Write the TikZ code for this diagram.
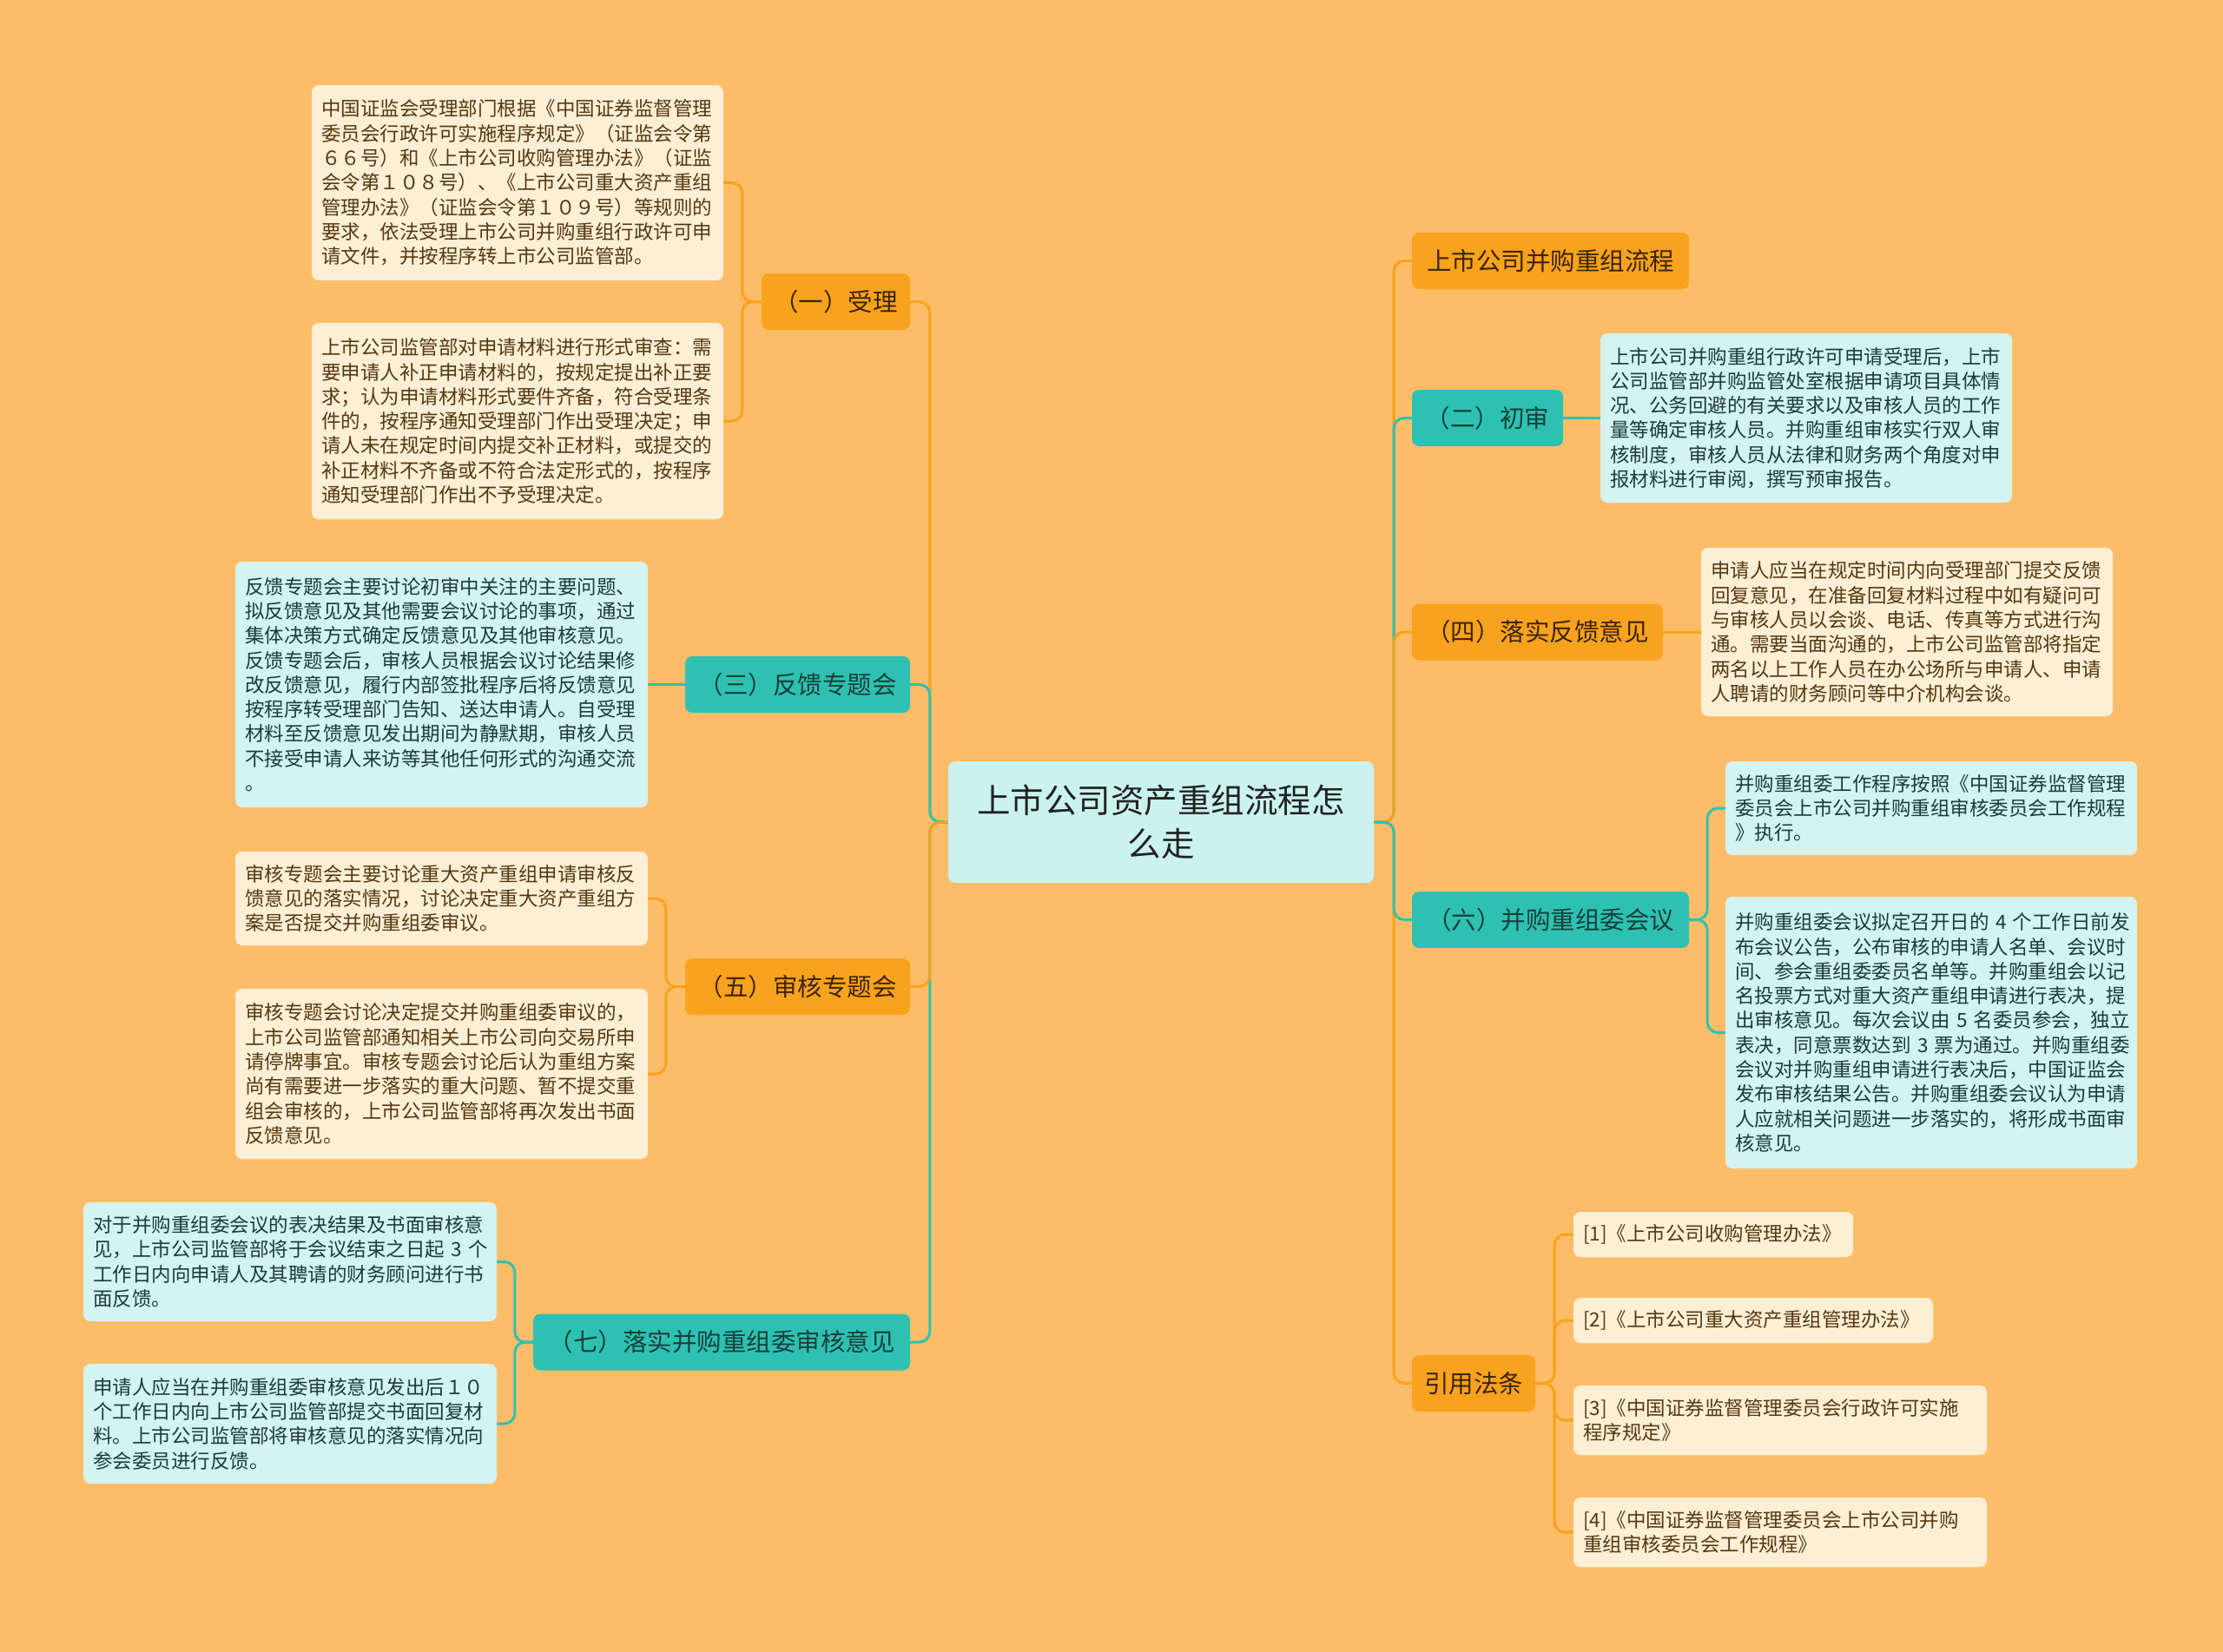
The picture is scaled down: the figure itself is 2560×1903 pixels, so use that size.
\documentclass[tikz,border=0pt]{standalone}
\usepackage{fontspec}
\setmainfont{Noto Sans CJK SC}
\usetikzlibrary{backgrounds}
\definecolor{bgc}{HTML}{FDBD68}
\definecolor{orangec}{HTML}{F9A21E}
\definecolor{tealc}{HTML}{2EC1B2}
\definecolor{creamc}{HTML}{FDEFD6}
\definecolor{cyanc}{HTML}{D5F3F0}
\definecolor{centerc}{HTML}{CAF3EF}
\definecolor{brownt}{HTML}{553810}
\definecolor{tealt}{HTML}{1D3B38}
\definecolor{obt}{HTML}{3C2400}
\definecolor{tbt}{HTML}{163F3A}
\definecolor{darkt}{HTML}{222222}
\definecolor{olinec}{HTML}{F9A11B}
\definecolor{tlinec}{HTML}{2EC1B2}
\begin{document}
\begin{tikzpicture}[x=1pt,y=-1pt,
  leafO/.style={fill=creamc, text=brownt, rounded corners=8pt, align=left, inner xsep=11pt, inner ysep=0pt, font=\fontsize{22.5pt}{28.3pt}\selectfont},
  leafT/.style={leafO, fill=cyanc, text=tealt},
  brO/.style={fill=orangec, text=obt, rounded corners=8pt, inner sep=0pt, font=\fontsize{28.5pt}{34pt}\selectfont, minimum height=65pt},
  brT/.style={brO, fill=tealc, text=tbt},
  oline/.style={draw=olinec, line width=3pt, rounded corners=12pt},
  tline/.style={oline, draw=tlinec}]
\useasboundingbox (0,0) rectangle (2560,1903);

% center
\node[fill=centerc, rounded corners=8pt, minimum width=490pt, minimum height=140pt, inner sep=0pt, align=center, text=darkt, font=\fontsize{38.5pt}{50pt}\selectfont] (c) at (1337,947) {上市公司资产重组流程怎\\么走};

% left branches
\node[brO, minimum width=171pt] (b1) at (962.5,347.5) {（一）受理};
\node[brT, minimum width=259pt] (b3) at (918.5,788.5) {（三）反馈专题会};
\node[brO, minimum width=259pt] (b5) at (918.5,1136.5) {（五）审核专题会};
\node[brT, minimum width=434pt] (b7) at (831,1546) {（七）落实并购重组委审核意见};

% right branches
\node[brO, minimum width=319pt] (r0) at (1785.5,300.5) {上市公司并购重组流程};
\node[brT, minimum width=174pt] (r2) at (1713,481.5) {（二）初审};
\node[brO, minimum width=289pt] (r4) at (1770.5,728) {（四）落实反馈意见};
\node[brT, minimum width=319pt] (r6) at (1785.5,1059.5) {（六）并购重组委会议};
\node[brO, minimum width=142pt] (r8) at (1697,1593.5) {引用法条};

% left leaves
\node[leafO, text width=452pt, minimum height=225pt] (A1) at (596,210.5) {中国证监会受理部门根据《中国证券监督管理\\委员会行政许可实施程序规定》（证监会令第\\６６号）和《上市公司收购管理办法》（证监\\会令第１０８号）、《上市公司重大资产重组\\管理办法》（证监会令第１０９号）等规则的\\要求，依法受理上市公司并购重组行政许可申\\请文件，并按程序转上市公司监管部。};
\node[leafO, text width=452pt, minimum height=226pt] (A2) at (596,485) {上市公司监管部对申请材料进行形式审查：需\\要申请人补正申请材料的，按规定提出补正要\\求；认为申请材料形式要件齐备，符合受理条\\件的，按程序通知受理部门作出受理决定；申\\请人未在规定时间内提交补正材料，或提交的\\补正材料不齐备或不符合法定形式的，按程序\\通知受理部门作出不予受理决定。};
\node[leafT, text width=453pt, minimum height=283pt] (L3) at (508.5,788.5) {反馈专题会主要讨论初审中关注的主要问题、\\拟反馈意见及其他需要会议讨论的事项，通过\\集体决策方式确定反馈意见及其他审核意见。\\反馈专题会后，审核人员根据会议讨论结果修\\改反馈意见，履行内部签批程序后将反馈意见\\按程序转受理部门告知、送达申请人。自受理\\材料至反馈意见发出期间为静默期，审核人员\\不接受申请人来访等其他任何形式的沟通交流\\。};
\node[leafO, text width=453pt, minimum height=108pt] (B1) at (508.5,1035) {审核专题会主要讨论重大资产重组申请审核反\\馈意见的落实情况，讨论决定重大资产重组方\\案是否提交并购重组委审议。};
\node[leafO, text width=453pt, minimum height=196pt] (B2) at (508.5,1237) {审核专题会讨论决定提交并购重组委审议的，\\上市公司监管部通知相关上市公司向交易所申\\请停牌事宜。审核专题会讨论后认为重组方案\\尚有需要进一步落实的重大问题、暂不提交重\\组会审核的，上市公司监管部将再次发出书面\\反馈意见。};
\node[leafT, text width=454pt, minimum height=137pt] (C1) at (334,1453.5) {对于并购重组委会议的表决结果及书面审核意\\见，上市公司监管部将于会议结束之日起~3~个\\工作日内向申请人及其聘请的财务顾问进行书\\面反馈。};
\node[leafT, text width=454pt, minimum height=138pt] (C2) at (334,1640) {申请人应当在并购重组委审核意见发出后１０\\个工作日内向上市公司监管部提交书面回复材\\料。上市公司监管部将审核意见的落实情况向\\参会委员进行反馈。};

% right leaves
\node[leafT, text width=452pt, minimum height=195pt] (L2) at (2080,481.5) {上市公司并购重组行政许可申请受理后，上市\\公司监管部并购监管处室根据申请项目具体情\\况、公务回避的有关要求以及审核人员的工作\\量等确定审核人员。并购重组审核实行双人审\\核制度，审核人员从法律和财务两个角度对申\\报材料进行审阅，撰写预审报告。};
\node[leafO, text width=452pt, minimum height=194pt] (L4) at (2196,728) {申请人应当在规定时间内向受理部门提交反馈\\回复意见，在准备回复材料过程中如有疑问可\\与审核人员以会谈、电话、传真等方式进行沟\\通。需要当面沟通的，上市公司监管部将指定\\两名以上工作人员在办公场所与申请人、申请\\人聘请的财务顾问等中介机构会谈。};
\node[leafT, text width=452pt, minimum height=108pt] (D1) at (2224,931) {并购重组委工作程序按照《中国证券监督管理\\委员会上市公司并购重组审核委员会工作规程\\》执行。};
\node[leafT, text width=452pt, minimum height=313pt] (D2) at (2224,1189.5) {并购重组委会议拟定召开日的~4~个工作日前发\\布会议公告，公布审核的申请人名单、会议时\\间、参会重组委委员名单等。并购重组会以记\\名投票方式对重大资产重组申请进行表决，提\\出审核意见。每次会议由~5~名委员参会，独立\\表决，同意票数达到~3~票为通过。并购重组委\\会议对并购重组申请进行表决后，中国证监会\\发布审核结果公告。并购重组委会议认为申请\\人应就相关问题进一步落实的，将形成书面审\\核意见。};
\node[leafO, text width=300pt, minimum height=52pt] (R1) at (1973,1422) {[1]《上市公司收购管理办法》};
\node[leafO, text width=392pt, minimum height=52pt] (R2) at (2019,1521) {[2]《上市公司重大资产重组管理办法》};
\node[leafO, text width=454pt, minimum height=80pt] (R3) at (2050,1636) {[3]《中国证券监督管理委员会行政许可实施\\程序规定》};
\node[leafO, text width=454pt, minimum height=80pt] (R4) at (2050,1765) {[4]《中国证券监督管理委员会上市公司并购\\重组审核委员会工作规程》};

\begin{scope}[on background layer]
\fill[bgc] (0,0) rectangle (2560,1903);
% center to branches
\draw[oline] (c.west) -- ++(-21,0) |- (b1.east);
\draw[tline] (c.west) -- ++(-21,0) |- (b3.east);
\draw[tline] (c.west) -- ++(-21,0) |- (b7.east);
\draw[oline] (c.west) -- ++(-21,0) |- (b5.east);
\draw[oline] (c.east) -- ++(23,0) |- (r0.west);
\draw[tline] (c.east) -- ++(23,0) |- (r2.west);
\draw[oline] (c.east) -- ++(23,0) |- (r4.west);
\draw[oline] (c.east) -- ++(23,0) |- (r8.west);
\draw[tline] (c.east) -- ++(23,0) |- (r6.west);
% branches to leaves
\draw[oline] (b1.west) -- ++(-22,0) |- (A1.east);
\draw[oline] (b1.west) -- ++(-22,0) |- (A2.east);
\draw[tline] (b3.west) -- (L3.east);
\draw[oline] (b5.west) -- ++(-22,0) |- (B1.east);
\draw[oline] (b5.west) -- ++(-22,0) |- (B2.east);
\draw[tline] (b7.west) -- ++(-21,0) |- (C1.east);
\draw[tline] (b7.west) -- ++(-21,0) |- (C2.east);
\draw[tline] (r2.east) -- (L2.west);
\draw[oline] (r4.east) -- (L4.west);
\draw[tline] (r6.east) -- ++(21,0) |- (D1.west);
\draw[tline] (r6.east) -- ++(21,0) |- (D2.west);
\draw[oline] (r8.east) -- ++(22,0) |- (R1.west);
\draw[oline] (r8.east) -- ++(22,0) |- (R2.west);
\draw[oline] (r8.east) -- ++(22,0) |- (R3.west);
\draw[oline] (r8.east) -- ++(22,0) |- (R4.west);
\end{scope}
\end{tikzpicture}
\end{document}
